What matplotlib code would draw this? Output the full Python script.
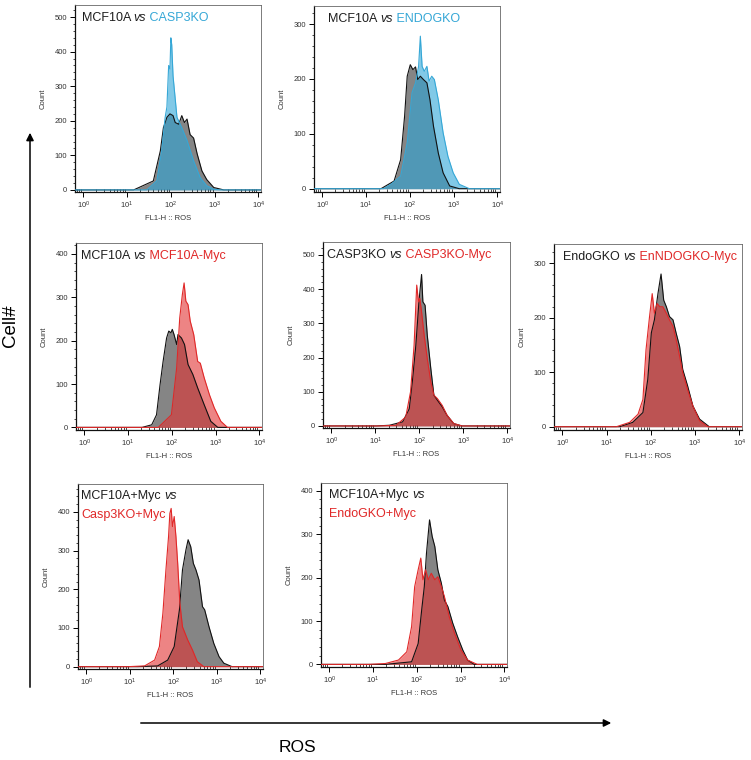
import numpy as np
import matplotlib
matplotlib.use('Agg')
import matplotlib.pyplot as plt
from matplotlib.patches import FancyArrowPatch
from matplotlib.ticker import LogLocator, MultipleLocator, NullFormatter

plt.rcParams['font.family'] = ['Liberation Sans', 'DejaVu Sans']

# ---- data: log10(FL1-H) positions and cell counts ----
p1_grey_x = [-0.2, 1.15, 1.60, 1.76, 1.83, 1.91, 1.98, 2.05, 2.10, 2.18, 2.25, 2.31, 2.37, 2.44, 2.52, 2.60, 2.71, 2.82, 2.98, 3.21, 4.1]
p1_grey_y = [0, 0, 26, 113, 180, 210, 220, 215, 195, 190, 215, 195, 205, 160, 150, 105, 55, 30, 7, 0, 0]
p1_blue_x = [-0.2, 1.45, 1.68, 1.79, 1.87, 1.91, 1.95, 1.98, 2.00, 2.02, 2.05, 2.08, 2.14, 2.25, 2.37, 2.52, 2.67, 2.82, 2.98, 3.13, 4.1]
p1_blue_y = [0, 0, 26, 113, 210, 240, 360, 350, 440, 420, 330, 290, 210, 180, 143, 84, 36, 12, 2, 0, 0]

p2_grey_x = [-0.2, 1.34, 1.64, 1.79, 1.88, 1.94, 2.01, 2.07, 2.13, 2.18, 2.24, 2.31, 2.39, 2.46, 2.54, 2.65, 2.76, 2.91, 3.13, 4.1]
p2_grey_y = [0, 0, 14, 53, 132, 205, 226, 217, 222, 199, 205, 199, 193, 162, 114, 65, 29, 5, 0, 0]
p2_blue_x = [-0.2, 1.40, 1.57, 1.79, 1.94, 2.05, 2.13, 2.20, 2.24, 2.28, 2.33, 2.39, 2.44, 2.50, 2.56, 2.65, 2.76, 2.87, 2.99, 3.13, 3.36, 4.1]
p2_blue_y = [0, 0, 8, 23, 84, 175, 193, 223, 278, 223, 214, 223, 196, 205, 199, 162, 102, 59, 29, 8, 0, 0]

p3_grey_x = [-0.2, 1.32, 1.54, 1.65, 1.73, 1.80, 1.88, 1.93, 1.98, 2.01, 2.05, 2.11, 2.14, 2.22, 2.29, 2.37, 2.48, 2.59, 2.74, 2.89, 3.05, 4.1]
p3_grey_y = [0, 0, 6, 29, 98, 152, 206, 222, 218, 226, 214, 191, 214, 206, 191, 145, 122, 91, 52, 14, 0, 0]
p3_red_x = [-0.2, 1.69, 1.99, 2.11, 2.18, 2.24, 2.28, 2.32, 2.37, 2.42, 2.50, 2.59, 2.65, 2.74, 2.86, 2.97, 3.12, 3.27, 4.1]
p3_red_y = [0, 0, 29, 137, 252, 306, 333, 291, 283, 245, 214, 152, 148, 114, 75, 45, 14, 0, 0]

p4_grey_x = [-0.2, 1.02, 1.32, 1.62, 1.77, 1.84, 1.92, 1.99, 2.05, 2.08, 2.13, 2.18, 2.26, 2.33, 2.44, 2.52, 2.63, 2.78, 2.97, 4.1]
p4_grey_y = [0, 0, 2, 12, 50, 129, 236, 363, 443, 363, 353, 265, 168, 90, 70, 56, 31, 7, 0, 0]
p4_red_x = [-0.2, 1.09, 1.47, 1.69, 1.80, 1.88, 1.94, 1.98, 2.01, 2.05, 2.11, 2.18, 2.26, 2.33, 2.41, 2.52, 2.63, 2.78, 2.97, 4.1]
p4_red_y = [0, 0, 2, 26, 100, 236, 412, 363, 373, 334, 265, 197, 129, 90, 80, 60, 31, 7, 0, 0]

p5_grey_x = [-0.2, 1.29, 1.59, 1.82, 1.93, 2.01, 2.08, 2.16, 2.23, 2.29, 2.35, 2.42, 2.50, 2.57, 2.65, 2.72, 2.83, 2.95, 3.10, 3.32, 4.1]
p5_grey_y = [0, 0, 8, 26, 87, 172, 196, 244, 280, 232, 220, 202, 196, 172, 147, 105, 75, 38, 14, 0, 0]
p5_red_x = [-0.2, 1.22, 1.52, 1.71, 1.82, 1.89, 1.97, 2.03, 2.08, 2.14, 2.20, 2.27, 2.35, 2.42, 2.50, 2.57, 2.65, 2.72, 2.83, 2.95, 3.10, 3.29, 4.1]
p5_red_y = [0, 0, 8, 23, 50, 141, 202, 244, 208, 226, 220, 220, 208, 196, 184, 160, 129, 99, 68, 38, 11, 0, 0]

p6_grey_x = [-0.2, 1.19, 1.64, 1.87, 2.02, 2.14, 2.21, 2.29, 2.34, 2.40, 2.46, 2.52, 2.59, 2.67, 2.72, 2.82, 2.93, 3.05, 3.16, 3.35, 4.1]
p6_grey_y = [0, 0, 2, 17, 52, 147, 250, 302, 328, 310, 267, 250, 224, 155, 147, 103, 60, 26, 9, 0, 0]
p6_red_x = [-0.2, 0.96, 1.34, 1.57, 1.68, 1.76, 1.83, 1.89, 1.92, 1.95, 1.98, 2.02, 2.06, 2.10, 2.15, 2.21, 2.33, 2.44, 2.55, 2.70, 4.1]
p6_red_y = [0, 0, 2, 17, 52, 138, 250, 336, 396, 409, 362, 388, 336, 267, 164, 103, 69, 43, 13, 0, 0]

p7_grey_x = [-0.2, 1.28, 1.88, 2.03, 2.11, 2.17, 2.22, 2.29, 2.35, 2.41, 2.48, 2.56, 2.63, 2.71, 2.82, 2.93, 3.05, 3.16, 3.31, 4.1]
p7_grey_y = [0, 0, 6, 48, 125, 179, 256, 333, 295, 272, 218, 187, 148, 133, 95, 64, 33, 10, 0, 0]
p7_red_x = [-0.2, 0.90, 1.28, 1.58, 1.77, 1.88, 1.95, 2.03, 2.09, 2.14, 2.20, 2.26, 2.33, 2.41, 2.48, 2.56, 2.63, 2.74, 2.86, 3.01, 3.16, 3.38, 4.1]
p7_red_y = [0, 0, 2, 10, 29, 87, 179, 218, 245, 195, 218, 195, 210, 195, 202, 179, 156, 110, 72, 33, 10, 0, 0]

# panel titles: lines of (text, colour key, italic?)
titles = [
    [[('MCF10A ', 'k', False), ('vs', 'k', True), (' CASP3KO', 'b', False)]],
    [[('MCF10A ', 'k', False), ('vs', 'k', True), (' ENDOGKO', 'b', False)]],
    [[('MCF10A ', 'k', False), ('vs', 'k', True), (' MCF10A-Myc', 'r', False)]],
    [[('CASP3KO ', 'k', False), ('vs', 'k', True), (' CASP3KO-Myc', 'r', False)]],
    [[('EndoGKO ', 'k', False), ('vs', 'k', True), (' EnNDOGKO-Myc', 'r', False)]],
    [[('MCF10A+Myc ', 'k', False), ('vs', 'k', True)], [('Casp3KO+Myc', 'r', False)]],
    [[('MCF10A+Myc ', 'k', False), ('vs', 'k', True)], [('EndoGKO+Myc', 'r', False)]],
]
title_x = [0.035, 0.075, 0.027, 0.021, 0.048, 0.016, 0.043]
y_max = [535, 333, 425, 538, 335, 472, 418]
overlay = ['b', 'b', 'r', 'r', 'r', 'r', 'r']

# panel boxes in pixels: left, top, right, bottom
boxes = [(75, 5, 261, 192), (314, 6, 500, 192), (76, 243, 262, 430),
         (323, 242, 510, 428), (554, 244, 742, 430), (78, 484, 263, 669),
         (321, 483, 507, 667)]

grey_sets = [(p1_grey_x, p1_grey_y), (p2_grey_x, p2_grey_y), (p3_grey_x, p3_grey_y),
             (p4_grey_x, p4_grey_y), (p5_grey_x, p5_grey_y), (p6_grey_x, p6_grey_y),
             (p7_grey_x, p7_grey_y)]
col_sets = [(p1_blue_x, p1_blue_y), (p2_blue_x, p2_blue_y), (p3_red_x, p3_red_y),
            (p4_red_x, p4_red_y), (p5_red_x, p5_red_y), (p6_red_x, p6_red_y),
            (p7_red_x, p7_red_y)]

colors = {'k': '#1e1e1e', 'b': '#35a7d6', 'r': '#e02828'}
fills = {'b': '#2ea6d8', 'r': '#e23232'}

W, H = 751, 760
fig = plt.figure(figsize=(W / 100, H / 100), dpi=100)

for i in range(7):
    l, t, r, b = boxes[i]
    ax = fig.add_axes([l / W, 1 - b / H, (r - l) / W, (b - t) / H])
    ax.set_xscale('log')

    gx = 10 ** np.array(grey_sets[i][0])
    gy = np.array(grey_sets[i][1])
    cx = 10 ** np.array(col_sets[i][0])
    cy = np.array(col_sets[i][1])
    c = overlay[i]

    ax.fill_between(gx, 0, gy, color='#858585', lw=0, zorder=1)
    ax.fill_between(cx, 0, cy, color=fills[c], alpha=0.6, lw=0, zorder=2)
    ax.plot(gx, gy, color='#111111', lw=0.8, zorder=3)
    ax.plot(cx, cy, color=colors[c], lw=0.8, zorder=4)

    ax.set_xlim(10 ** -0.19, 10 ** 4.06)
    ax.set_ylim(-6, y_max[i])

    ax.xaxis.set_major_locator(LogLocator(base=10, numticks=10))
    ax.xaxis.set_minor_locator(LogLocator(base=10, subs=np.arange(2, 10), numticks=10))
    ax.xaxis.set_minor_formatter(NullFormatter())
    ax.yaxis.set_major_locator(MultipleLocator(100))
    ax.yaxis.set_minor_locator(MultipleLocator(20))

    ax.tick_params(axis='both', which='major', labelsize=5.5, length=3.5, width=0.7,
                   labelcolor='#333333', pad=2)
    ax.tick_params(axis='x', which='minor', direction='in', length=2, width=0.5)
    ax.tick_params(axis='y', which='minor', length=1.8, width=0.5)

    for s in ['left', 'bottom']:
        ax.spines[s].set_linewidth(0.9)
        ax.spines[s].set_color('#111111')
    for s in ['top', 'right']:
        ax.spines[s].set_linewidth(0.6)
        ax.spines[s].set_color('#666666')

    ax.set_xlabel('FL1-H :: ROS', fontsize=5.5, color='#333333', labelpad=3)
    ax.set_ylabel('Count', fontsize=5.5, color='#333333', labelpad=6)

    # multi-coloured title inside the box, one text per coloured piece
    y0 = 0.965
    for line in titles[i]:
        txt = None
        for s, ck, it in line:
            kw = dict(color=colors[ck], fontsize=9, style='italic' if it else 'normal')
            if txt is None:
                txt = ax.text(title_x[i], y0, s, transform=ax.transAxes,
                              va='top', ha='left', **kw)
            else:
                txt = ax.annotate(s, xy=(1, 0), xycoords=txt, va='bottom', ha='left', **kw)
        y0 -= 0.1

# big axis arrows
fig.add_artist(FancyArrowPatch((30 / W, 1 - 690 / H), (30 / W, 1 - 130 / H),
                               transform=fig.transFigure, arrowstyle='-|>',
                               mutation_scale=11, lw=1.1, color='black'))
fig.add_artist(FancyArrowPatch((138 / W, 1 - 723 / H), (614 / W, 1 - 723 / H),
                               transform=fig.transFigure, arrowstyle='-|>',
                               mutation_scale=11, lw=1.1, color='black'))
fig.text(11 / W, 1 - 326 / H, 'Cell#', rotation=90, fontsize=13.5, ha='center', va='center')
fig.text(297 / W, 1 - 748 / H, 'ROS', fontsize=12.5, ha='center', va='center')

fig.savefig('out.png', dpi=100)
